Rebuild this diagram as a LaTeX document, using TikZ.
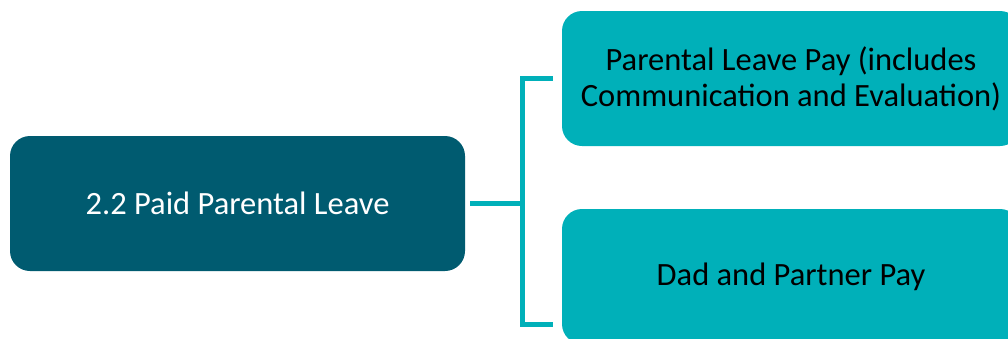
\documentclass[tikz,border=0pt]{standalone}
\usepackage{fontspec}
\setmainfont{Carlito}
\definecolor{darkteal}{HTML}{005B70}
\definecolor{lightteal}{HTML}{00B0B9}
\begin{document}
\begin{tikzpicture}[x=1pt,y=-1pt,
  box/.style={rectangle, rounded corners=20pt, inner sep=0pt, align=center,
    font=\fontsize{32.5}{36}\selectfont},
  rootbox/.style={box, fill=darkteal, text=white, minimum width=455pt, minimum height=135pt},
  leafbox/.style={box, fill=lightteal, text=black, minimum width=458pt, minimum height=135pt},
  conn/.style={draw=lightteal, line width=5pt}]
\useasboundingbox (0,0) rectangle (1008,338);
\clip (0,0) rectangle (1008,338);
\node[rootbox] (root) at (237.5,203.5) {2.2 Paid Parental Leave};
\node[leafbox] (top) at (791,78.5) {Parental Leave Pay (includes\\Communication and Evaluation)};
\node[leafbox] (bot) at (791,276.5) {Dad and Partner Pay};
\coordinate (mid) at (522,203.5);
\coordinate (botstub) at (553,324);
\draw[conn] ([xshift=5pt]root.east) -- (mid);
\draw[conn] ([xshift=-9pt]top.west) -| (mid) |- (botstub);
\end{tikzpicture}
\end{document}
